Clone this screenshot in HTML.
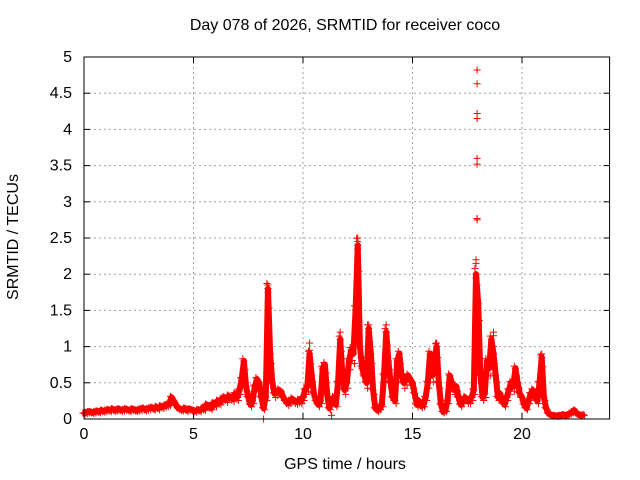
<!DOCTYPE html>
<html><head><meta charset="utf-8"><style>body{margin:0;background:#fff}svg{display:block;font-family:"Liberation Sans",sans-serif}</style></head>
<body>
<svg id="c" width="640" height="480"></svg>
<script>
const xTicks=[0,5,10,15,20];
const yTicks=[0,0.5,1,1.5,2,2.5,3,3.5,4,4.5,5];
const yTickLabels=["0","0.5","1","1.5","2","2.5","3","3.5","4","4.5","5"];
const baseStart=0, baseStep=0.1;
const baseValues=[.08,.09,.1,.1,.09,.1,.11,.1,.12,.11,
.12,.13,.12,.14,.12,.13,.14,.12,.13,.14,
.13,.12,.14,.13,.12,.13,.14,.15,.13,.14,
.15,.16,.14,.17,.15,.18,.17,.19,.2,.22,
.3,.25,.2,.15,.14,.13,.15,.12,.14,.13,
.12,.11,.13,.12,.15,.14,.2,.18,.15,.22,
.2,.25,.23,.28,.3,.27,.32,.3,.28,.35,
.3,.4,.55,.8,.45,.3,.2,.25,.45,.55,
.5,.3,.15,.3,1.8,.9,.5,.35,.38,.4,
.38,.3,.25,.22,.25,.28,.25,.24,.26,.25,
.3,.4,.45,.9,.6,.35,.25,.2,.25,.7,
.75,.35,.15,.25,.3,.2,.5,1.1,.6,.4,
.5,.8,.95,.9,1.5,2.4,1.0,.7,.6,.5,
1.25,.9,.4,.15,.12,.15,.2,.6,1.2,.8,
.5,.3,.25,.8,.9,.6,.5,.55,.6,.55,
.5,.35,.2,.25,.18,.2,.3,.5,.9,.6,
.8,1.0,.5,.2,.1,.12,.25,.6,.5,.4,
.45,.3,.2,.25,.3,.25,.25,.3,.4,2.0,
1.6,.6,.3,.35,.8,.7,1.1,.9,.6,.3,
.35,.25,.2,.3,.4,.5,.45,.7,.5,.35,
.3,.2,.15,.25,.35,.4,.3,.25,.5,.85,
.3,.15,.08,.06,.05,.05,.04,.05,.05,.06,
.05,.06,.08,.1,.12,.08,.06,.05,.06];
const spikeT=[8.4,8.4,8.4,8.4,8.4,8.4,8.4,8.4,8.4,8.4,8.4,8.2,
12.5,12.5,12.5,12.5,12.5,12.5,12.5,12.5,12.5,12.5,
17.95,17.95,17.95,17.95,17.95,17.95,17.95,17.95,17.9,17.9,17.9,17.95,17.95,17.95,18.0,
10.3,10.3,10.3,10.3,13.0,13.0,13.0,13.0,13.8,13.8,13.8,13.8,11.7,11.7,11.7,
18.7,18.7,18.7,16.1,16.1,20.9,20.9,11.3];
const spikeV=[1.85,1.8,1.75,1.6,1.5,1.4,1.2,1.0,0.9,0.7,0.6,0,
2.5,2.45,2.35,2.2,2.0,1.9,1.72,1.5,1.3,1.2,
4.82,4.63,4.22,4.15,3.6,3.52,2.77,2.75,2.2,2.15,1.95,1.85,1.75,1.5,1.3,
1.05,.95,.85,.75,1.3,1.2,1.1,.9,1.3,1.2,1.1,1.0,1.2,1.0,.9,
1.2,1.15,1.0,1.05,.95,.9,.85,.05];
const L=84,R=609.6,T=57,B=419,XMAX=24,YMAX=5;
const xs=v=>L+(R-L)*v/XMAX, ys=v=>B-(B-T)*v/YMAX;
const NS="http://www.w3.org/2000/svg", svg=document.getElementById('c');
function mk(tag,a,p){const e=document.createElementNS(NS,tag);for(const k in a)e.setAttribute(k,a[k]);(p||svg).appendChild(e);return e;}
const grid=mk('g',{stroke:'#a0a0a0','stroke-dasharray':'2,3','stroke-width':1});


xTicks.forEach(t=>{if(t>0)mk('line',{x1:xs(t),x2:xs(t),y1:T,y2:B},grid);});
yTicks.forEach(t=>{if(t>0&&t<YMAX)mk('line',{x1:L,x2:R,y1:ys(t),y2:ys(t)},grid);});
const pts=mk('g',{stroke:'#ff0000','stroke-width':1,fill:'none'});


function plus(x,y){mk('path',{d:`M${x-3.5},${y}h7M${x},${y-3.5}v7`},pts);}
let d='';
baseValues.forEach((v,i)=>{d+=(i?'L':'M')+xs(baseStart+i*baseStep)+','+ys(v);});
const band=mk('path',{d:d,stroke:'#ff0000','stroke-width':6,'stroke-linejoin':'round',fill:'none'},pts);


baseValues.forEach((v,i)=>{const x=xs(baseStart+i*baseStep);
 plus(x,ys(v));plus(x+1.1,ys(v*0.85));plus(x-1.1,ys(v*1.04));});
spikeT.forEach((t,i)=>{plus(xs(t),ys(spikeV[i]));});
const ax=mk('g',{stroke:'#000','stroke-width':1,fill:'none'});


mk('rect',{x:L,y:T,width:R-L,height:B-T},ax);
const lab=mk('g',{'font-size':16,fill:'#000'});
xTicks.forEach(t=>{mk('line',{x1:xs(t),x2:xs(t),y1:B,y2:B-6},ax);mk('line',{x1:xs(t),x2:xs(t),y1:T,y2:T+6},ax);
 const e=mk('text',{x:xs(t),y:B+20,'text-anchor':'middle'},lab);e.textContent=t;
 
 });
yTicks.forEach((t,i)=>{mk('line',{x1:L,x2:L+6,y1:ys(t),y2:ys(t)},ax);mk('line',{x1:R,x2:R-6,y1:ys(t),y2:ys(t)},ax);
 const e=mk('text',{x:72,y:ys(t)+5,'text-anchor':'end'},lab);e.textContent=yTickLabels[i];
 
 });
</script>
<div style="position:absolute;left:0;top:0;width:640px;height:480px;pointer-events:none;font-family:'Liberation Sans',sans-serif;font-size:16px">
<div style="position:absolute;left:0;width:690px;top:17px;text-align:center">Day 078 of 2026, SRMTID for receiver coco</div>
<div style="position:absolute;left:0;width:690px;top:456px;text-align:center">GPS time / hours</div>
<div style="position:absolute;left:-86px;top:228px;width:200px;text-align:center;transform:rotate(-90deg)">SRMTID / TECUs</div>
</div>
</body></html>
